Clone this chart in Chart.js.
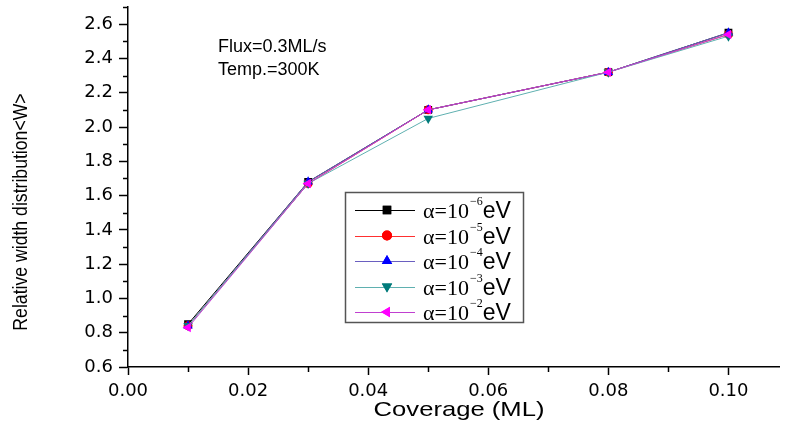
<!DOCTYPE html>
<html>
<head>
<meta charset="utf-8">
<title>Relative width distribution vs coverage</title>
<script src="https://cdn.jsdelivr.net/npm/chart.js@4"></script>
<style>
  html, body { margin: 0; padding: 0; background: #fff; }
  #wrap { width: 785px; height: 427px; position: relative; }
</style>
</head>
<body>
<div id="wrap"><canvas id="grafico"></canvas></div>
<script>
// Dados
const coverage = [0.01, 0.03, 0.05, 0.08, 0.10];
const wAlpha6 = [0.85, 1.68, 2.10, 2.32, 2.55];
const wAlpha5 = [0.84, 1.67, 2.10, 2.32, 2.54];
const wAlpha4 = [0.84, 1.68, 2.10, 2.32, 2.55];
const wAlpha3 = [0.84, 1.67, 2.05, 2.32, 2.53];
const wAlpha2 = [0.83, 1.67, 2.10, 2.32, 2.54];
const exponents = ['6', '5', '4', '3', '2'];
const notes = ['Flux=0.3ML/s', 'Temp.=300K'];

const series = [
  { exp: exponents[0], values: wAlpha6, color: '#000000', line: '#000000', style: 'rect', rot: 0 },
  { exp: exponents[1], values: wAlpha5, color: '#ff0000', line: '#ff3030', style: 'circle', rot: 0 },
  { exp: exponents[2], values: wAlpha4, color: '#0000ff', line: '#6a5fc0', style: 'triangle', rot: 0 },
  { exp: exponents[3], values: wAlpha3, color: '#007b7b', line: '#5fb0b0', style: 'triangle', rot: 180 },
  { exp: exponents[4], values: wAlpha2, color: '#ff00ff', line: '#c040d0', style: 'triangle', rot: -90 }
];

const datasets = series.map((s, i) => ({
  label: 'α=10^-' + s.exp + 'eV',
  data: coverage.map((x, k) => ({ x: x, y: s.values[k] })),
  borderColor: s.line,
  backgroundColor: s.color,
  borderWidth: 1,
  pointStyle: s.style,
  rotation: s.rot,
  pointRadius: s.style === 'circle' ? 4.5 : 5.5,
  pointBorderWidth: 0,
  pointBackgroundColor: s.color,
  order: series.length - 1 - i
}));

const tickFont = { family: '"DejaVu Sans", sans-serif', size: 18 };

function isMajorX(v) { return Math.round(v * 100) % 2 === 0; }
function isMajorY(v) { return Math.round(v * 10) % 2 === 0; }

// texto com largura ajustada (o original é esticado)
function stretchText(ctx, text, x, y, sx) {
  ctx.save();
  ctx.translate(x, y);
  ctx.scale(sx, 1);
  ctx.fillText(text, 0, 0);
  ctx.restore();
}

// Plugin: ticks menores, títulos, textos e legenda
const overlay = {
  id: 'overlay',
  afterDraw(chart) {
    const ctx = chart.ctx;
    const xs = chart.scales.x, ys = chart.scales.y;
    const area = chart.chartArea;
    ctx.save();
    ctx.strokeStyle = '#000';
    ctx.lineWidth = 1.5;
    xs.ticks.forEach(t => {
      if (!isMajorX(t.value)) {
        const px = Math.round(xs.getPixelForValue(t.value)) + 0.5;
        ctx.beginPath(); ctx.moveTo(px, area.bottom); ctx.lineTo(px, area.bottom + 5); ctx.stroke();
      }
    });
    ys.ticks.forEach(t => {
      if (!isMajorY(t.value)) {
        const py = Math.round(ys.getPixelForValue(t.value)) + 0.5;
        ctx.beginPath(); ctx.moveTo(area.left, py); ctx.lineTo(area.left - 5, py); ctx.stroke();
      }
    });

    ctx.fillStyle = '#000';
    ctx.textAlign = 'center';
    ctx.textBaseline = 'middle';
    // título do eixo x
    ctx.font = '21px "Liberation Sans", Arial, sans-serif';
    stretchText(ctx, 'Coverage (ML)', 459, 410, 1.22);

    // título do eixo y
    ctx.save();
    ctx.translate(21, 212);
    ctx.rotate(-Math.PI / 2);
    ctx.font = '21px "Liberation Sans", Arial, sans-serif';
    stretchText(ctx, 'Relative width distribution<W>', 0, 0, 0.84);
    ctx.restore();
    ctx.restore();

    // anotações
    ctx.save();
    ctx.fillStyle = '#000';
    ctx.font = '18px "Liberation Sans", Arial, sans-serif';
    ctx.textAlign = 'left';
    ctx.textBaseline = 'alphabetic';
    ctx.fillText(notes[0], 218, 52);
    ctx.fillText(notes[1], 218, 75);

    // legenda
    const bx = 345, by = 192, bw = 178, bh = 130;
    ctx.strokeStyle = '#555';
    ctx.lineWidth = 1.5;
    ctx.strokeRect(bx + 0.5, by + 0.5, bw, bh);
    series.forEach((s, i) => {
      const y = 210 + i * 25.5;
      ctx.strokeStyle = s.line;
      ctx.lineWidth = 1;
      ctx.beginPath(); ctx.moveTo(355, Math.round(y) + 0.5); ctx.lineTo(415, Math.round(y) + 0.5); ctx.stroke();
      ctx.fillStyle = s.color;
      Chart.helpers.drawPoint(ctx, { pointStyle: s.style, rotation: s.rot, radius: s.style === 'circle' ? 5 : 6, borderWidth: 0 }, 387, y);
      ctx.fill();
      ctx.fillStyle = '#000';
      ctx.textBaseline = 'alphabetic';
      let tx = 423;
      const base = y + 8;
      ctx.font = '22px "Liberation Serif", serif';
      ctx.fillText('α=10', tx, base);
      tx += ctx.measureText('α=10').width + 1;
      ctx.font = '12px "Liberation Serif", serif';
      ctx.fillText('−' + s.exp, tx, base - 13);
      tx += ctx.measureText('−' + s.exp).width;
      ctx.font = '23px "Liberation Sans", Arial, sans-serif';
      ctx.fillText('eV', tx, base);
    });
    ctx.restore();
  }
};

const config = {
  type: 'line',
  data: { datasets: datasets },
  options: {
    responsive: true,
    maintainAspectRatio: false,
    animation: false,
    layout: { padding: { top: 7, right: 0, left: 0, bottom: 0 } },
    plugins: { legend: { display: false }, tooltip: { enabled: false } },
    scales: {
      x: {
        type: 'linear',
        min: 0,
        max: 0.1085,
        border: { color: '#000', width: 1.5 },
        grid: {
          drawOnChartArea: false,
          tickLength: 8,
          tickWidth: 1.5,
          tickColor: c => isMajorX(c.tick.value) ? '#000' : 'rgba(0,0,0,0)'
        },
        ticks: {
          stepSize: 0.01,
          includeBounds: false,
          autoSkip: false,
          maxRotation: 0,
          color: '#000',
          font: tickFont,
          padding: 6,
          callback: v => isMajorX(v) ? v.toFixed(2) : ''
        },
        afterFit: s => { s.height = 60; s.paddingLeft = 0; s.paddingRight = 0; }
      },
      y: {
        min: 0.6,
        max: 2.7,
        border: { color: '#000', width: 1.5 },
        grid: {
          drawOnChartArea: false,
          tickLength: 9,
          tickWidth: 1.5,
          tickColor: c => isMajorY(c.tick.value) ? '#000' : 'rgba(0,0,0,0)'
        },
        ticks: {
          stepSize: 0.1,
          autoSkip: false,
          color: '#000',
          font: tickFont,
          padding: 6,
          callback: v => isMajorY(v) ? v.toFixed(1) : ''
        },
        afterFit: s => { s.width = 128; s.paddingTop = 0; s.paddingBottom = 0; }
      }
    }
  },
  plugins: [overlay]
};

new Chart(document.getElementById('grafico').getContext('2d'), config);
</script>
</body>
</html>
